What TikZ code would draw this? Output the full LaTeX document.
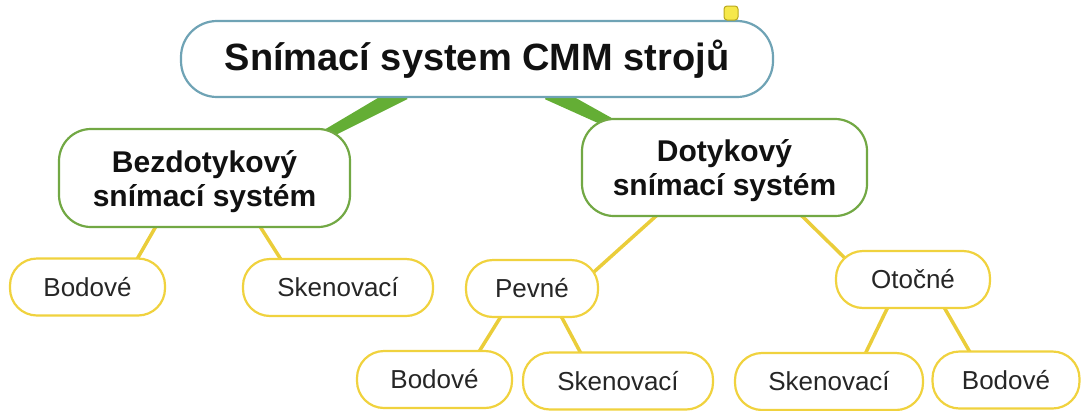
\documentclass[tikz,border=0pt]{standalone}
\usepackage{fontspec}
\setmainfont{Liberation Sans}
\usetikzlibrary{backgrounds}
\definecolor{rootline}{HTML}{6FA3B5}
\definecolor{greenline}{HTML}{72A844}
\definecolor{greenlink}{HTML}{64AE35}
\definecolor{yellowline}{HTML}{F0D23E}
\definecolor{yellowlink}{HTML}{EACD3A}
\definecolor{notefill}{HTML}{F6E84A}
\definecolor{notedraw}{HTML}{B9A81C}
\definecolor{textdark}{HTML}{111111}
\definecolor{textgray}{HTML}{262626}

\begin{document}
\begin{tikzpicture}[x=1pt,y=-1pt,
    rootbox/.style={draw=rootline, line width=2.2pt, fill=white, rounded corners=36pt, inner sep=0pt,
        font=\fontsize{38}{42}\selectfont\bfseries, text=textdark},
    mainbox/.style={draw=greenline, line width=2.2pt, fill=white, rounded corners=32pt, inner sep=0pt,
        align=center, font=\fontsize{30}{34}\selectfont\bfseries, text=textdark, text depth=-3pt},
    leafbox/.style={draw=yellowline, line width=2.2pt, fill=white, rounded corners=27pt, inner sep=0pt,
        minimum height=57pt, font=\fontsize{26}{30}\selectfont, text=textgray},
    twiglink/.style={draw=yellowlink, line width=3.5pt}]
    \useasboundingbox (0,0) rectangle (1083,410);
    \node[rootbox, minimum width=592pt, minimum height=76pt] (root) at (477,59) {Snímací system CMM strojů};
    \node[draw=notedraw, fill=notefill, line width=1pt, rounded corners=3pt, minimum size=14pt, inner sep=0pt] (note) at (731,13) {};
    \node[mainbox, minimum width=291pt, minimum height=98pt] (bezd) at (204.5,178) {Bezdotykový\\snímací systém};
    \node[mainbox, minimum width=285pt, minimum height=97pt] (dotyk) at (724.5,167.5) {Dotykový\\snímací systém};
    \node[leafbox, minimum width=155pt] (bodA) at (87.5,287) {Bodové};
    \node[leafbox, minimum width=190pt] (skenA) at (338,287.5) {Skenovací};
    \node[leafbox, minimum width=132pt] (pevne) at (532,288.5) {Pevné};
    \node[leafbox, minimum width=154pt] (otocne) at (913,279.5) {Otočné};
    \node[leafbox, minimum width=155pt] (bodB) at (434.5,379.5) {Bodové};
    \node[leafbox, minimum width=190pt] (skenB) at (618,381) {Skenovací};
    \node[leafbox, minimum width=188pt] (skenC) at (829,381.5) {Skenovací};
    \node[leafbox, minimum width=147pt] (bodC) at (1006,380) {Bodové};
    \begin{scope}[on background layer]
        \fill[greenlink] ([xshift=-69.5pt,yshift=-0.9pt]root.south) -- ([xshift=-77.5pt,yshift=12.9pt]root.south)
            -- ([xshift=109.3pt,yshift=-8.1pt]bezd.north) -- ([xshift=113.7pt,yshift=-15.9pt]bezd.north) -- cycle;
        \fill[greenlink] ([xshift=67.9pt,yshift=-1.1pt]root.south) -- ([xshift=75.5pt,yshift=13.1pt]root.south)
            -- ([xshift=-100.4pt,yshift=-7pt]dotyk.north) -- ([xshift=-104.6pt,yshift=-15pt]dotyk.north) -- cycle;
        \draw[twiglink] ([xshift=-47.3pt,yshift=4pt]bezd.south) -- ([xshift=48.3pt,yshift=-4pt]bodA.north);
        \draw[twiglink] ([xshift=54pt,yshift=4pt]bezd.south) -- ([xshift=-55.5pt,yshift=-4pt]skenA.north);
        \draw[twiglink] ([xshift=-65.2pt,yshift=4pt]dotyk.south) -- ([xshift=58.6pt,yshift=-16pt]pevne.north);
        \draw[twiglink] ([xshift=74.5pt,yshift=4pt]dotyk.south) -- ([xshift=-62.2pt,yshift=-14pt]otocne.north);
        \draw[twiglink] ([xshift=-29.6pt,yshift=4pt]pevne.south) -- ([xshift=43.1pt,yshift=-4pt]bodB.north);
        \draw[twiglink] ([xshift=28pt,yshift=4pt]pevne.south) -- ([xshift=-36pt,yshift=-4pt]skenB.north);
        \draw[twiglink] ([xshift=-24.2pt,yshift=4pt]otocne.south) -- ([xshift=35.2pt,yshift=-4pt]skenC.north);
        \draw[twiglink] ([xshift=29.8pt,yshift=4pt]otocne.south) -- ([xshift=-34.8pt,yshift=-4pt]bodC.north);
    \end{scope}
\end{tikzpicture}
\end{document}
